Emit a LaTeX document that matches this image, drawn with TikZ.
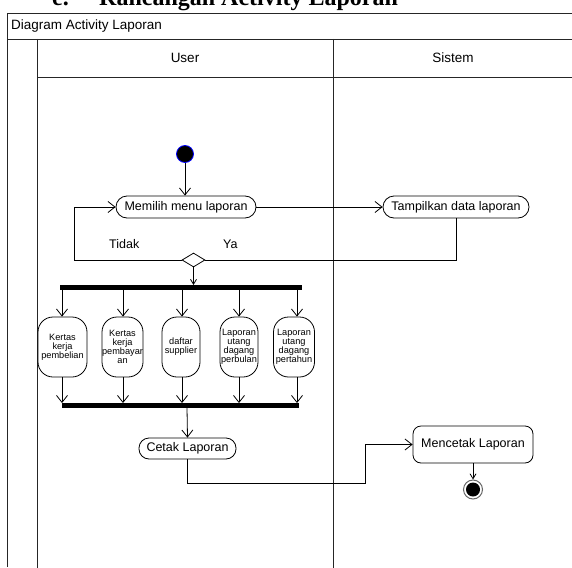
\documentclass[tikz,border=0pt]{standalone}
\usepackage{fontspec}
\setmainfont{Liberation Sans}
\newfontfamily\titlefont{Liberation Serif}
\usetikzlibrary{arrows.meta,shapes.geometric}
\begin{document}
\begin{tikzpicture}[x=1pt,y=-1pt,
  frame/.style={draw=black!85,line width=0.9pt},
  act/.style={draw=black,line width=0.8pt,rounded corners=#1,inner sep=0pt,align=center,
    font=\fontsize{12.5}{14}\selectfont},
  smallact/.style={draw=black,line width=0.8pt,rounded corners=15pt,inner sep=0pt,align=center,
    minimum height=60pt,font=\fontsize{9.2}{9}\selectfont},
  barnode/.style={fill=black,draw=none,inner sep=0pt,minimum height=4.5pt},
  arr/.style={draw=black,line width=0.8pt,-{Straight Barb[length=7pt,width=11pt,line width=0.8pt]}},
  sarr/.style={draw=black,line width=0.8pt,-{Straight Barb[length=5pt,width=6pt,line width=0.8pt]}},
  conn/.style={draw=black,line width=0.8pt},
  lbl/.style={inner sep=0pt,font=\fontsize{12.5}{14}\selectfont},
  hdr/.style={inner sep=0pt,font=\fontsize{13.5}{15}\selectfont},
]
\useasboundingbox (0,0) rectangle (572,567);
\clip (0,0) rectangle (572,567);
\fill[white] (0,0) rectangle (572,567);

% title (cut off at top, as in the reference)
\node[anchor=base west,inner sep=0pt,font=\titlefont\bfseries\fontsize{24}{24}\selectfont] (t1) at (52,6) {e.};
\node[anchor=base west,inner sep=0pt,font=\titlefont\bfseries\fontsize{24}{24}\selectfont] (t2) at (99,6) {Rancangan Activity Laporan};

% frame and swimlanes
\draw[frame] (7,567) -- (7,13) -- (580,13);
\draw[frame] (7,39) -- (580,39);
\draw[frame] (37,77) -- (580,77);
\draw[frame] (37,39) -- (37,580);
\draw[frame] (333,39) -- (333,580);

\node[hdr,anchor=west] (diag) at (11,26) {Diagram Activity Laporan};
\node[hdr] (user) at (185,58) {User};
\node[hdr] (sistem) at (453,58) {Sistem};

% nodes
\node[circle,fill=black,draw=blue,line width=0.8pt,minimum size=17pt,inner sep=0pt] (init) at (185,154) {};
\node[act=11pt,minimum width=140pt,minimum height=22pt] (mem) at (186,207) {Memilih menu laporan};
\node[act=11pt,minimum width=146pt,minimum height=22pt] (tamp) at (456,207) {Tampilkan data laporan};
\node[diamond,draw=black,line width=0.8pt,inner sep=0pt,minimum width=23pt,minimum height=14pt,fill=white] (dec) at (193.5,260) {};
\node[lbl,anchor=west] (tidak) at (109,244) {Tidak};
\node[lbl,anchor=west] (ya) at (223,244) {Ya};

\node[barnode,minimum width=242pt] (fork) at (181,287.5) {};
\node[smallact,minimum width=49pt] (n1) at (62.5,347) {Kertas\\kerja\\pembelian};
\node[smallact,minimum width=41pt] (n2) at (122.5,347) {Kertas\\kerja\\pembayar\\an};
\node[smallact,minimum width=38pt] (n3) at (181,347) {daftar\\supplier};
\node[smallact,minimum width=38pt] (n4) at (239,347) {Laporan\\utang\\dagang\\perbulan};
\node[smallact,minimum width=41pt] (n5) at (294,347) {Laporan\\utang\\dagang\\pertahun};
\node[barnode,minimum width=237pt] (join) at (180.5,405.5) {};

\node[act=10pt,minimum width=97pt,minimum height=21pt] (cetak) at (187.5,448.5) {Cetak Laporan};
\node[act=8pt,minimum width=120pt,minimum height=37pt] (mencetak) at (473,444.5) {Mencetak Laporan};
\node[circle,draw=black!60,line width=1pt,fill=white,minimum size=19pt,inner sep=0pt] (final) at (473,489.5) {};
\node[circle,fill=black,minimum size=14pt,inner sep=0pt] (finalin) at (final) {};

% connectors
\draw[arr] (init) -- (init |- mem.north);
\draw[arr] (mem.east) -- (tamp.west);
\draw[conn] (tamp.south) |- (dec.east);
\coordinate (k2) at (74,260);
\draw[arr] (dec.west) -- (k2) |- (mem.west);
\draw[sarr] (dec.south) -- (dec.south |- fork.north);
\foreach \n/\xx in {n1/62,n2/123,n3/182,n4/239,n5/297}{
  \draw[arr] (\xx,0 |- fork.south) -- (\xx,0 |- \n.north);
  \draw[arr] (\xx,0 |- \n.south) -- (\xx,0 |- join.north);
}
\draw[arr] (187,0 |- join.south) -- (cetak.north);
\coordinate (k1) at (365,483);
\draw[arr] (cetak.south) |- (k1) |- (mencetak.west);
\draw[sarr] (mencetak.south) -- (final.north);
\end{tikzpicture}
\end{document}
